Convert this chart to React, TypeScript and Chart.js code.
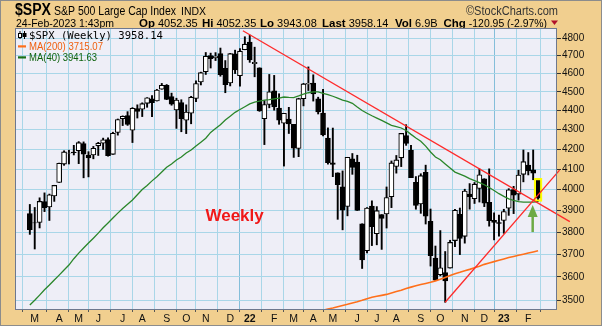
import React, { useEffect, useRef } from 'react';
import { Chart, registerables } from 'chart.js';

Chart.register(...registerables);

// ---------- DATA (weekly $SPX, week index 0 = week of 22-Feb-2021) ----------
const opens = [
  3885.6, 3842.5, 3844.4, 3942.9, 3916.5, 3969.3, 4034.4, 4124.7, 4179.8, 4185.0,
  4191.9, 4228.3, 4169.9, 4170.2, 4216.5, 4229.3, 4248.3, 4173.4, 4284.9, 4356.5,
  4372.4, 4296.4, 4409.6, 4406.9, 4437.8, 4461.7, 4450.3, 4513.8, 4535.4, 4474.8,
  4402.9, 4442.1, 4348.8, 4385.4, 4463.7, 4553.7, 4610.6, 4701.5, 4689.3, 4712.0,
  4628.8, 4548.4, 4710.3, 4587.9, 4734.0, 4778.1, 4655.3, 4632.2, 4356.3, 4431.8,
  4505.8, 4412.6, 4332.7, 4354.2, 4327.0, 4202.8, 4462.4, 4541.1, 4548.0, 4462.6,
  4385.6, 4255.3, 4130.6, 4081.3, 4013.0, 3919.4, 4151.1, 4134.7, 3838.2, 3715.3,
  3920.8, 3792.6, 3880.9, 3883.8, 3965.7, 4112.4, 4155.9, 4269.4, 4195.1, 4034.6,
  3930.9, 4083.7, 3849.9, 3682.7, 3609.8, 3619.0, 3638.7, 3761.4, 3881.9, 3780.7,
  3978.0, 3956.2, 4005.4, 4052.0, 3939.3, 3853.8, 3843.3, 3853.3, 3910.8, 3999.3,
  3978.1, 4073.9, 4119.5, 4096.6, 4052.35,
];
const highs = [
  3928.7, 3914.5, 3960.3, 3983.9, 3978.2, 4020.6, 4129.5, 4191.3, 4194.2, 4218.8,
  4238.0, 4236.4, 4186.7, 4213.4, 4234.1, 4255.8, 4257.2, 4286.1, 4355.0, 4371.6,
  4393.7, 4415.2, 4430.0, 4440.8, 4468.7, 4480.3, 4513.3, 4545.9, 4539.7, 4493.0,
  4465.4, 4457.3, 4430.0, 4475.8, 4559.7, 4608.1, 4718.5, 4714.9, 4717.8, 4743.8,
  4672.9, 4713.6, 4731.9, 4740.7, 4808.9, 4818.6, 4748.8, 4632.2, 4453.2, 4595.3,
  4590.0, 4489.6, 4385.0, 4416.8, 4327.0, 4465.4, 4546.0, 4637.3, 4593.5, 4471.0,
  4512.9, 4308.5, 4307.7, 4081.3, 4090.7, 4158.5, 4177.5, 4168.8, 3838.2, 3913.7,
  3945.9, 3918.5, 3880.9, 4012.4, 4140.2, 4167.7, 4280.5, 4325.3, 4218.5, 4063.0,
  4076.8, 4119.3, 3907.1, 3736.7, 3806.9, 3712.0, 3762.8, 3905.4, 3911.8, 4001.5,
  4028.8, 4034.0, 4100.5, 4052.5, 4101.0, 3889.0, 3878.3, 3906.0, 4004.0, 4015.4,
  4094.2, 4195.4, 4182.4, 4195.4, 4052.35,
];
const lows = [
  3789.5, 3723.3, 3819.0, 3894.8, 3853.5, 3943.3, 4034.4, 4118.4, 4125.0, 4170.2,
  4126.8, 4056.9, 4061.4, 4150.9, 4167.6, 4198.1, 4164.4, 4173.4, 4271.0, 4320.5,
  4321.5, 4233.1, 4360.0, 4367.7, 4416.8, 4367.7, 4450.3, 4513.8, 4457.7, 4427.8,
  4305.9, 4288.5, 4278.9, 4329.9, 4447.5, 4537.4, 4595.1, 4630.9, 4672.8, 4585.4,
  4495.1, 4532.1, 4600.2, 4531.1, 4734.0, 4662.7, 4582.2, 4395.3, 4222.6, 4414.0,
  4401.4, 4327.2, 4114.7, 4279.5, 4157.9, 4161.7, 4424.3, 4506.9, 4450.0, 4381.3,
  4267.6, 4124.3, 4062.5, 3858.9, 3810.3, 3875.1, 4073.9, 3900.2, 3636.9, 3705.7,
  3738.7, 3742.1, 3721.6, 3818.6, 3913.7, 4079.8, 4112.1, 4218.7, 4057.7, 3906.2,
  3886.8, 3837.1, 3647.5, 3584.1, 3604.5, 3491.6, 3638.7, 3733.6, 3698.2, 3749.6,
  3906.5, 3933.3, 3940.0, 3918.4, 3827.1, 3764.5, 3780.8, 3794.3, 3877.3, 3885.5,
  3949.1, 4037.2, 4071.0, 4047.5, 3943.08,
];
const closes = [
  3811.2, 3841.9, 3943.3, 3913.1, 3974.5, 4019.9, 4128.8, 4185.5, 4180.2, 4181.2,
  4232.6, 4173.9, 4155.9, 4204.1, 4229.9, 4247.4, 4166.5, 4280.7, 4352.3, 4369.6,
  4327.2, 4411.8, 4395.3, 4436.5, 4468.0, 4441.7, 4509.4, 4535.4, 4458.6, 4433.0,
  4455.5, 4357.0, 4391.3, 4471.4, 4544.9, 4605.4, 4697.5, 4682.9, 4698.0, 4594.6,
  4538.4, 4712.0, 4620.6, 4725.8, 4766.2, 4677.0, 4662.9, 4397.9, 4431.9, 4500.5,
  4418.6, 4348.9, 4384.7, 4328.9, 4204.3, 4463.1, 4543.1, 4545.9, 4488.3, 4392.6,
  4271.8, 4131.9, 4123.3, 4023.9, 3901.4, 4158.2, 4108.5, 3900.9, 3674.8, 3911.7,
  3825.3, 3899.4, 3863.2, 3961.6, 4130.3, 4145.2, 4280.2, 4228.5, 4057.7, 3924.3,
  4067.4, 3873.3, 3693.2, 3585.6, 3639.7, 3583.1, 3752.8, 3901.1, 3770.6, 3992.9,
  3965.3, 4026.1, 4071.7, 3934.4, 3852.4, 3844.8, 3839.5, 3895.1, 3999.1, 3972.6,
  4070.6, 4136.5, 4090.5, 4079.09, 3958.14,
];
const ma40 = [
  3480, 3500, 3522, 3545, 3565, 3587, 3608, 3630, 3652, 3680,
  3705, 3728, 3750, 3772, 3795, 3820, 3842, 3865, 3888, 3910,
  3930, 3950, 3975, 4000, 4020, 4042, 4062, 4085, 4109, 4125,
  4145, 4160, 4180, 4195, 4215, 4235, 4255, 4285, 4305, 4325,
  4350, 4370, 4390, 4405, 4420, 4435, 4445, 4450, 4455, 4458,
  4462, 4466, 4472, 4470, 4469, 4478, 4488, 4495, 4500, 4500,
  4492, 4485, 4476, 4466, 4455, 4448, 4438, 4418, 4400, 4385,
  4372, 4360, 4348, 4335, 4322, 4315, 4308, 4295, 4275, 4256,
  4240, 4215, 4185, 4160, 4146, 4125, 4105, 4085, 4075, 4065,
  4053, 4043, 4033, 4023, 4010, 3995, 3980, 3967, 3955, 3948,
  3942, 3940, 3940, 3940, 3941.63,
];
const ma200 = [
  null, null, null, null, null, null, null, null, null, null,
  null, null, null, null, null, null, null, null, null, null,
  null, null, null, null, null, null, null, null, null, null,
  null, null, null, null, null, null, null, null, null, null,
  null, null, null, null, null, null, null, null, null, null,
  null, null, null, null, null, null, null, null, 3448, 3453,
  3458, 3463.5, 3468, 3473, 3478, 3483, 3489, 3494, 3500, 3507,
  3513, 3517, 3521, 3525, 3531, 3537, 3543, 3550, 3556, 3562,
  3567, 3572, 3577, 3583, 3590, 3598, 3606, 3614, 3620, 3627,
  3633, 3640, 3647, 3655, 3661, 3667, 3673, 3679, 3685, 3690,
  3695, 3700, 3705, 3710, 3715.07,
];
const monthTickWeeks = [1, 6, 10, 14, 19, 23, 28, 32, 36, 41, 45, 50, 54, 58, 62, 67, 71, 75, 80, 84, 89, 93, 97, 102];
const monthTickLabels = ['M', 'A', 'M', 'J', 'J', 'A', 'S', 'O', 'N', 'D', '22', 'F', 'M', 'A', 'M', 'J', 'J', 'A', 'S', 'O', 'N', 'D', '23', 'F'];
const priceTicks = [3500, 3600, 3700, 3800, 3900, 4000, 4100, 4200, 4300, 4400, 4500, 4600, 4700, 4800];
const resistanceLine = [{ x: 43.6, y: 4844 }, { x: 110.5, y: 3848 }];
const supportLine = [{ x: 85, y: 3491.6 }, { x: 108.4, y: 4095 }];
const highlightWeek = [104];
const highlightRange = [3943, 4054];
const arrowWeek = 102.9;
const arrowFromTo = [3800, 3926];
const noteWeek = 41.9;
const notePrice = 3872;
const volumeText = '6.9B';
const dateText = '24-Feb-2023 1:43pm';

// ---------- STYLE ----------
const FONT = "'Liberation Sans', Arial, sans-serif";
const TAN = '#F1CF8F';
const PLOT_BG = '#EEEEF7';
const GRID = '#A9D6E8';
const GRID_YEAR = '#84BEDA';
const ORANGE = '#FF6F1A';
const GREEN = '#2A862A';
const RED_LINE = '#FF2A2A';

const n = closes.length;
const idx = Array.from({ length: n }, (_, i) => i);
const isYear = (i: number) => (monthTickLabels[i] || '').length === 2;

function fitText(ctx: CanvasRenderingContext2D, s: string, x: number, y: number, font: string, color: string, targetW?: number, align: 'left' | 'right' = 'left') {
  ctx.save();
  ctx.font = font;
  ctx.fillStyle = color;
  ctx.textBaseline = 'alphabetic';
  ctx.textAlign = 'left';
  const w = ctx.measureText(s).width;
  const sx = targetW ? targetW / w : 1;
  const drawnW = w * sx;
  ctx.translate(align === 'right' ? x - drawnW : x, y);
  ctx.scale(sx, 1);
  ctx.fillText(s, 0, 0);
  ctx.restore();
  return drawnW;
}

const decorPlugin = {
  id: 'decor',
  beforeDraw(chart: any) {
    const { ctx, chartArea: a, width, height } = chart;
    ctx.save();
    ctx.fillStyle = TAN;
    ctx.fillRect(0, 0, width, height);
    ctx.fillStyle = PLOT_BG;
    ctx.fillRect(a.left, a.top, a.right - a.left, a.bottom - a.top);

    // header row 1
    fitText(ctx, '$SPX', 15, 15, `bold 16px ${FONT}`, '#000', 36);
    fitText(ctx, 'S&P 500 Large Cap Index', 54, 15, `12px ${FONT}`, '#000', 122);
    fitText(ctx, 'INDX', 181, 15, `11px ${FONT}`, '#000', 25);
    fitText(ctx, '\u00A9StockCharts.com', 558, 15, `12px ${FONT}`, '#333', 92, 'right');

    // header row 2
    const last = n - 1;
    const chg = closes[last] - closes[last - 1];
    const pct = (chg / closes[last - 1]) * 100;
    const y2 = 26.5;
    fitText(ctx, dateText, 16, y2, `11px ${FONT}`, '#000', 98);
    const items: [string, string, number, number | undefined][] = [
      ['Op', opens[last].toFixed(2), 139, undefined],
      ['Hi', highs[last].toFixed(2), 202, undefined],
      ['Lo', lows[last].toFixed(2), 260, undefined],
      ['Last', closes[last].toFixed(2), 322, undefined],
      ['Vol', volumeText, 395, undefined],
      ['Chg', `${chg.toFixed(2)} (${pct.toFixed(2)}%)`, 443.5, 547],
    ];
    items.forEach(([lab, val, lx, endX]) => {
      const lw = fitText(ctx, lab, lx, y2, `bold 11.5px ${FONT}`, '#000');
      const vx = lx + lw + 3;
      if (endX) {
        fitText(ctx, val, vx, y2, `11px ${FONT}`, '#000', endX - vx);
      } else {
        fitText(ctx, val, vx, y2, `11px ${FONT}`, '#000');
      }
    });
    ctx.fillStyle = '#B0102A';
    ctx.beginPath();
    ctx.moveTo(551, 20.5);
    ctx.lineTo(558, 20.5);
    ctx.lineTo(554.5, 25);
    ctx.closePath();
    ctx.fill();
    ctx.restore();
  },
  afterDatasetsDraw(chart: any) {
    const { ctx, chartArea: a, scales } = chart;
    const xs = scales.x;
    const ys = scales.y;
    ctx.save();

    // note text
    ctx.font = `bold 17px ${FONT}`;
    ctx.fillStyle = '#F01818';
    ctx.textAlign = 'center';
    ctx.textBaseline = 'middle';
    ctx.fillText('Weekly', xs.getPixelForValue(noteWeek), ys.getPixelForValue(notePrice));

    // green arrow
    const ax = xs.getPixelForValue(arrowWeek);
    const yTail = ys.getPixelForValue(arrowFromTo[0]);
    const yTip = ys.getPixelForValue(arrowFromTo[1]);
    ctx.strokeStyle = '#6DAA45';
    ctx.fillStyle = '#6DAA45';
    ctx.lineWidth = 2.5;
    ctx.beginPath();
    ctx.moveTo(ax, yTail);
    ctx.lineTo(ax, yTip + 9);
    ctx.stroke();
    ctx.beginPath();
    ctx.moveTo(ax, yTip);
    ctx.lineTo(ax - 5, yTip + 12);
    ctx.lineTo(ax + 5, yTip + 12);
    ctx.closePath();
    ctx.fill();

    // plot frame
    ctx.strokeStyle = '#6E788E';
    ctx.lineWidth = 1;
    ctx.strokeRect(a.left - 0.5, a.top - 0.5, a.right - a.left + 1, a.bottom - a.top + 1);

    // legend
    const lx = a.left;
    const ty = a.top;
    ctx.fillStyle = '#000';
    ctx.fillRect(lx + 3.5, ty + 2, 1, 8);
    ctx.strokeStyle = '#000';
    ctx.strokeRect(lx + 2.5, ty + 4.5, 3, 4);
    ctx.fillStyle = '#fff';
    ctx.fillRect(lx + 3, ty + 5, 2, 3);
    ctx.fillStyle = '#000';
    ctx.fillRect(lx + 8, ty + 2, 1, 8);
    ctx.fillRect(lx + 6.5, ty + 4, 4, 4);
    fitText(ctx, `$SPX (Weekly) ${closes[n - 1].toFixed(2)}`, lx + 13, ty + 9.5, `10.5px 'DejaVu Sans Mono', monospace`, '#000', 134);
    ctx.fillStyle = ORANGE;
    ctx.fillRect(lx + 2, ty + 16.3, 8, 2.2);
    fitText(ctx, `MA(200) ${(ma200[n - 1] as number).toFixed(2)}`, lx + 13, ty + 21.3, `11px ${FONT}`, '#F06010', 74);
    ctx.fillStyle = '#176F17';
    ctx.fillRect(lx + 2, ty + 27.3, 8, 2.2);
    fitText(ctx, `MA(40) ${ma40[n - 1].toFixed(2)}`, lx + 13, ty + 32.3, `11px ${FONT}`, '#0E620E', 68);
    ctx.restore();
  },
  afterDraw(chart: any) {
    const { ctx, width, height } = chart;
    ctx.save();
    ctx.strokeStyle = '#8C8C8C';
    ctx.lineWidth = 1;
    ctx.strokeRect(0.5, 0.5, width - 1, height - 1);
    ctx.restore();
  },
};

export default function App() {
  const ref = useRef<HTMLCanvasElement>(null);
  useEffect(() => {
    const canvas = ref.current;
    if (!canvas) return;
    const chart = new Chart(canvas, {
      type: 'bar',
      data: {
        datasets: [
          {
            type: 'line',
            label: 'Resistance',
            data: resistanceLine,
            borderColor: RED_LINE,
            borderWidth: 1.3,
            pointRadius: 0,
            clip: false,
            order: 0,
          } as any,
          {
            type: 'line',
            label: 'Support',
            data: supportLine,
            borderColor: RED_LINE,
            borderWidth: 1.3,
            pointRadius: 0,
            clip: false,
            order: 0,
          } as any,
          {
            type: 'line',
            label: 'MA(40)',
            data: idx.map((i) => ({ x: i, y: ma40[i] })),
            borderColor: GREEN,
            borderWidth: 1.3,
            pointRadius: 0,
            tension: 0,
            order: 1,
          } as any,
          {
            type: 'line',
            label: 'MA(200)',
            data: idx.filter((i) => ma200[i] !== null).map((i) => ({ x: i, y: ma200[i] })),
            borderColor: ORANGE,
            borderWidth: 1.6,
            pointRadius: 0,
            tension: 0,
            order: 1,
          } as any,
          {
            type: 'bar',
            label: 'Highlight',
            data: highlightWeek.map((w) => ({ x: w, y: highlightRange })),
            backgroundColor: 'rgba(0,0,0,0)',
            borderColor: '#FFFF00',
            borderWidth: 1.6,
            borderSkipped: false,
            barThickness: 8,
            grouped: false,
            order: 2,
          } as any,
          {
            type: 'bar',
            label: 'Body',
            data: idx.map((i) => ({ x: i, y: [opens[i], closes[i]] })),
            backgroundColor: idx.map((i) => (closes[i] >= opens[i] ? '#FFFFFF' : '#000000')),
            borderColor: '#000000',
            borderWidth: 1.1,
            borderSkipped: false,
            barThickness: 5,
            grouped: false,
            order: 3,
          } as any,
          {
            type: 'bar',
            label: 'Wick',
            data: idx.map((i) => ({ x: i, y: [lows[i], highs[i]] })),
            backgroundColor: '#000000',
            borderWidth: 0,
            barThickness: 1.25,
            grouped: false,
            order: 4,
          } as any,
        ],
      },
      options: {
        responsive: false,
        maintainAspectRatio: false,
        devicePixelRatio: 1,
        animation: false,
        events: [],
        layout: { padding: { left: 16, top: 29, right: 0, bottom: 0 } },
        plugins: { legend: { display: false }, tooltip: { enabled: false } },
        scales: {
          x: {
            type: 'linear',
            min: -0.53,
            max: 105.37,
            afterBuildTicks: (s: any) => {
              s.ticks = monthTickWeeks.map((v) => ({ value: v }));
            },
            afterFit: (s: any) => {
              s.height = 17;
            },
            border: { display: false },
            grid: {
              color: (c: any) => (isYear(c.index) ? GRID_YEAR : GRID),
              lineWidth: 1,
              drawTicks: true,
              tickLength: 3,
              tickColor: '#555',
            },
            ticks: {
              autoSkip: false,
              maxRotation: 0,
              minRotation: 0,
              padding: 1,
              color: '#111',
              font: (c: any) => ({ family: FONT, size: 10.5, weight: isYear(c.index) ? 'bold' : 'normal' }),
              callback: (_v: any, i: number) => monthTickLabels[i],
            },
          },
          y: {
            type: 'logarithmic',
            position: 'right',
            min: 3463.5,
            max: 4854,
            afterBuildTicks: (s: any) => {
              s.ticks = priceTicks.map((v) => ({ value: v }));
            },
            afterFit: (s: any) => {
              s.width = 46;
            },
            border: { display: false },
            grid: { color: GRID, lineWidth: 1, drawTicks: true, tickLength: 5, tickColor: '#333' },
            ticks: {
              autoSkip: false,
              padding: 1,
              color: '#111',
              font: { family: FONT, size: 10 },
              callback: (v: any) => String(v),
            },
          },
        },
      } as any,
      plugins: [decorPlugin],
    });
    return () => chart.destroy();
  }, []);
  return (
    <div style={{ position: 'fixed', left: 0, top: 0, width: 602, height: 326 }}>
      <canvas ref={ref} width={602} height={326} style={{ display: 'block', width: 602, height: 326 }} />
    </div>
  );
}
